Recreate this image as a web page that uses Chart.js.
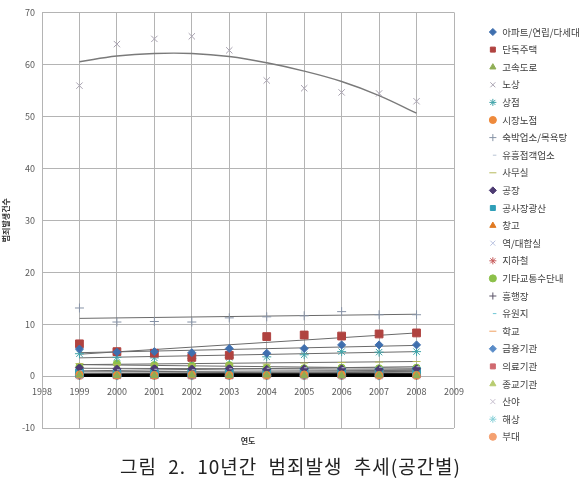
<!DOCTYPE html>
<html>
<head>
<meta charset="utf-8">
<script src="https://cdn.jsdelivr.net/npm/chart.js@4.4.0/dist/chart.umd.min.js"></script>
<style>
  body { margin: 0; background: #fff; }
  #wrap { position: relative; width: 581px; height: 480px; }
  #caption {
    position: absolute; left: 0; top: 455px; width: 581px;
    text-align: center; font-family: 'Noto Sans CJK KR', sans-serif;
    font-size: 19px; line-height: 22px; color: #222; letter-spacing: 1px; word-spacing: 6px;
  }
</style>
</head>
<body>
<div id="wrap">
  <canvas id="grafico" width="581" height="480"></canvas>
  <div id="caption">그림 2. 10년간 범죄발생 추세(공간별)</div>
</div>
<script>
const years = [1999, 2000, 2001, 2002, 2003, 2004, 2005, 2006, 2007, 2008];
const seriesNames = ['아파트/연립/다세대', '단독주택', '고속도로', '노상', '상점', '시장노점', '숙박업소/목욕탕',
  '유흥접객업소', '사무실', '공장', '공사장광산', '창고', '역/대합실', '지하철', '기타교통수단내', '흥행장',
  '유원지', '학교', '금융기관', '의료기관', '종교기관', '산야', '해상', '부대'];

// 값
const apartment     = [5.2, 4.6, 4.7, 4.5, 5.3, 4.4, 5.3, 6.0, 6.0, 6.0];
const house         = [6.2, 4.7, 4.4, 3.6, 4.0, 7.6, 7.9, 7.7, 8.1, 8.3];
const highway       = [0.2, 0.1, 0.1, 0.2, 0.1, 0.2, 0.1, 0.1, 0.2, 0.1];
const street        = [55.9, 63.9, 64.9, 65.4, 62.7, 56.9, 55.4, 54.6, 54.4, 52.9];
const shop          = [4.3, 3.6, 3.5, 3.4, 3.6, 3.7, 4.1, 4.7, 4.6, 4.7];
const market        = [0.3, 0.2, 0.2, 0.3, 0.2, 0.2, 0.3, 0.3, 0.2, 0.2];
const lodging       = [13.1, 10.4, 10.5, 10.4, 11.2, 11.4, 11.6, 12.4, 11.8, 11.8];
const entertainment = [1.0, 1.2, 1.3, 1.2, 1.4, 1.5, 1.6, 1.6, 1.7, 1.8];
const office        = [2.4, 2.2, 2.3, 2.2, 2.3, 2.3, 2.5, 2.6, 2.7, 2.8];
const factory       = [1.6, 1.4, 1.5, 1.4, 1.5, 1.3, 1.4, 1.4, 1.3, 1.4];
const construction  = [0.6, 0.5, 0.5, 0.6, 0.6, 0.7, 0.8, 0.8, 0.8, 0.9];
const warehouse     = [0.5, 0.4, 0.4, 0.4, 0.3, 0.4, 0.4, 0.4, 0.3, 0.3];
const station       = [0.3, 0.3, 0.3, 0.2, 0.3, 0.3, 0.2, 0.2, 0.2, 0.3];
const subway        = [0.4, 0.4, 0.5, 0.5, 0.6, 0.6, 0.6, 0.7, 0.7, 0.7];
const transport     = [1.8, 2.4, 2.1, 2.0, 2.1, 1.6, 1.5, 1.6, 1.5, 1.6];
const theater       = [0.2, 0.2, 0.2, 0.2, 0.2, 0.2, 0.2, 0.2, 0.2, 0.2];
const park          = [0.3, 0.3, 0.3, 0.3, 0.3, 0.3, 0.3, 0.3, 0.3, 0.3];
const school        = [0.8, 0.7, 0.8, 0.8, 0.9, 1.0, 1.0, 1.1, 1.1, 1.1];
const bank          = [0.1, 0.1, 0.1, 0.1, 0.1, 0.1, 0.1, 0.1, 0.1, 0.1];
const hospital      = [0.4, 0.3, 0.3, 0.3, 0.3, 0.4, 0.4, 0.4, 0.4, 0.4];
const religion      = [0.2, 0.2, 0.2, 0.2, 0.2, 0.2, 0.2, 0.2, 0.2, 0.2];
const mountain      = [0.1, 0.1, 0.1, 0.1, 0.1, 0.1, 0.1, 0.1, 0.1, 0.1];
const sea           = [0.0, 0.0, 0.0, 0.0, 0.0, 0.0, 0.0, 0.0, 0.0, 0.0];
const military      = [0.0, 0.0, 0.0, 0.0, 0.0, 0.0, 0.0, 0.0, 0.0, 0.0];

const seriesValues = [apartment, house, highway, street, shop, market, lodging, entertainment, office,
  factory, construction, warehouse, station, subway, transport, theater, park, school, bank, hospital,
  religion, mountain, sea, military];

// 추세선 (1999, 2008 값), 노상은 다항식 추세선
const trendStart = [4.5, 4.2, 0.15, null, 3.5, 0.25, 11.1, 1.0, 2.2, 1.5, 0.5, 0.45, 0.3, 0.4, 2.2, 0.2, 0.3, 0.8, 0.1, 0.35, 0.2, 0.1, 0.0, 0.0];
const trendEnd   = [5.9, 8.3, 0.15, null, 4.7, 0.25, 11.9, 1.8, 2.8, 1.3, 0.9, 0.3, 0.2, 0.75, 1.5, 0.2, 0.3, 1.1, 0.1, 0.4, 0.2, 0.1, 0.0, 0.0];
const streetTrend = [60.5, 61.6, 62.1, 62.1, 61.5, 60.3, 58.7, 56.7, 54.0, 50.6];

const yTicks = [-10, 0, 10, 20, 30, 40, 50, 60, 70];
const xTicks = [1998, 1999, 2000, 2001, 2002, 2003, 2004, 2005, 2006, 2007, 2008, 2009];

// 모양, 색
const colors = ['#3f6fae', '#b04340', '#8fae55', '#a8a2b0', '#3fa3a8', '#ee8a3c', '#8793a6', '#b9c4d4',
  '#b5b85a', '#4d3b72', '#2f9fb8', '#e07a22', '#b9c2e0', '#c65a5a', '#8cc04a', '#5c5468',
  '#6fc7d6', '#f0a060', '#5a8cc8', '#d06a70', '#b8cc70', '#c4bccc', '#88d0d8', '#f4a070'];
const styles = ['rectRot', 'rect', 'triangle', 'crossRot', 'star', 'circle', 'cross', 'dash', 'line'];
const sizes = {rectRot: 4, rect: 5.5, triangle: 4, crossRot: 4.5, star: 4.5, circle: 3.6, cross: 4.5, dash: 3, line: 4};

let datasets = [];
seriesNames.forEach(function(nome, i) {
    let st = styles[i % styles.length];
    datasets.push({
        label: nome,
        data: years.map((y, k) => ({x: y, y: seriesValues[i][k]})),
        pointStyle: st,
        pointRadius: sizes[st],
        backgroundColor: colors[i],
        borderColor: colors[i],
        borderWidth: 1,
        showLine: false
    });
});
seriesNames.forEach(function(nome, i) {
    if (trendStart[i] === null) return;
    let zero = trendStart[i] < 0.6 && trendEnd[i] < 0.6;
    datasets.push({
        label: 'trend',
        data: [{x: years[0], y: trendStart[i]}, {x: years[years.length - 1], y: trendEnd[i]}],
        showLine: true,
        pointRadius: 0,
        borderColor: zero ? '#000' : '#6a6a6a',
        borderWidth: zero ? 1.6 : 1
    });
});
datasets.push({
    label: 'trend',
    data: years.map((y, k) => ({x: y, y: streetTrend[k]})),
    showLine: true,
    pointRadius: 0,
    tension: 0.4,
    borderColor: '#7a7a7a',
    borderWidth: 1.4
});

Chart.defaults.font.family = "'Noto Sans CJK KR', 'Noto Sans', sans-serif";
const gridColor = '#b4b4b4';

new Chart(document.getElementById('grafico').getContext('2d'), {
    type: 'scatter',
    data: {datasets: datasets},
    options: {
        responsive: false,
        animation: false,
        layout: {padding: {top: 11, left: 0, right: 0, bottom: 0}},
        plugins: {
            tooltip: {enabled: false},
            legend: {
                position: 'right',
                align: 'start',
                maxWidth: 101,
                title: {display: true, text: ' ', font: {size: 4}, padding: {top: 0, bottom: 3.35}},
                labels: {
                    filter: (item) => item.datasetIndex < seriesNames.length,
                    usePointStyle: true,
                    boxHeight: 5,
                    padding: 8.1,
                    color: '#404040',
                    font: {size: 9.5}
                }
            }
        },
        scales: {
            x: {
                type: 'linear',
                position: {y: 0},
                min: 1998,
                max: 2009,
                afterBuildTicks: (s) => { s.ticks = xTicks.map(v => ({value: v})); },
                ticks: {color: '#595959', font: {size: 9}, padding: 10, callback: (v) => String(v)},
                grid: {color: gridColor, drawTicks: false},
                border: {color: gridColor}
            },
            x2: {
                type: 'linear',
                position: 'bottom',
                ticks: {display: false},
                grid: {display: false},
                border: {display: false},
                title: {display: true, text: '연도', color: '#333', font: {size: 8, weight: 'bold'}, padding: {top: 0, bottom: 34}},
                afterFit: (s) => { s.height = 52; }
            },
            y: {
                min: -10,
                max: 70,
                afterBuildTicks: (s) => { s.ticks = yTicks.map(v => ({value: v})); },
                ticks: {color: '#595959', font: {size: 9}, padding: 7},
                grid: {color: gridColor, drawTicks: false},
                border: {color: gridColor},
                title: {display: true, text: '범죄발생건수', color: '#333', font: {size: 8, weight: 'bold'}, padding: {top: 1, bottom: 0}},
                afterFit: (s) => { s.width = 42; }
            },
            y2: {
                type: 'linear',
                position: 'right',
                ticks: {display: false},
                grid: {display: false},
                border: {display: false},
                afterFit: (s) => { s.width = 26; }
            }
        }
    }
});
</script>
</body>
</html>
